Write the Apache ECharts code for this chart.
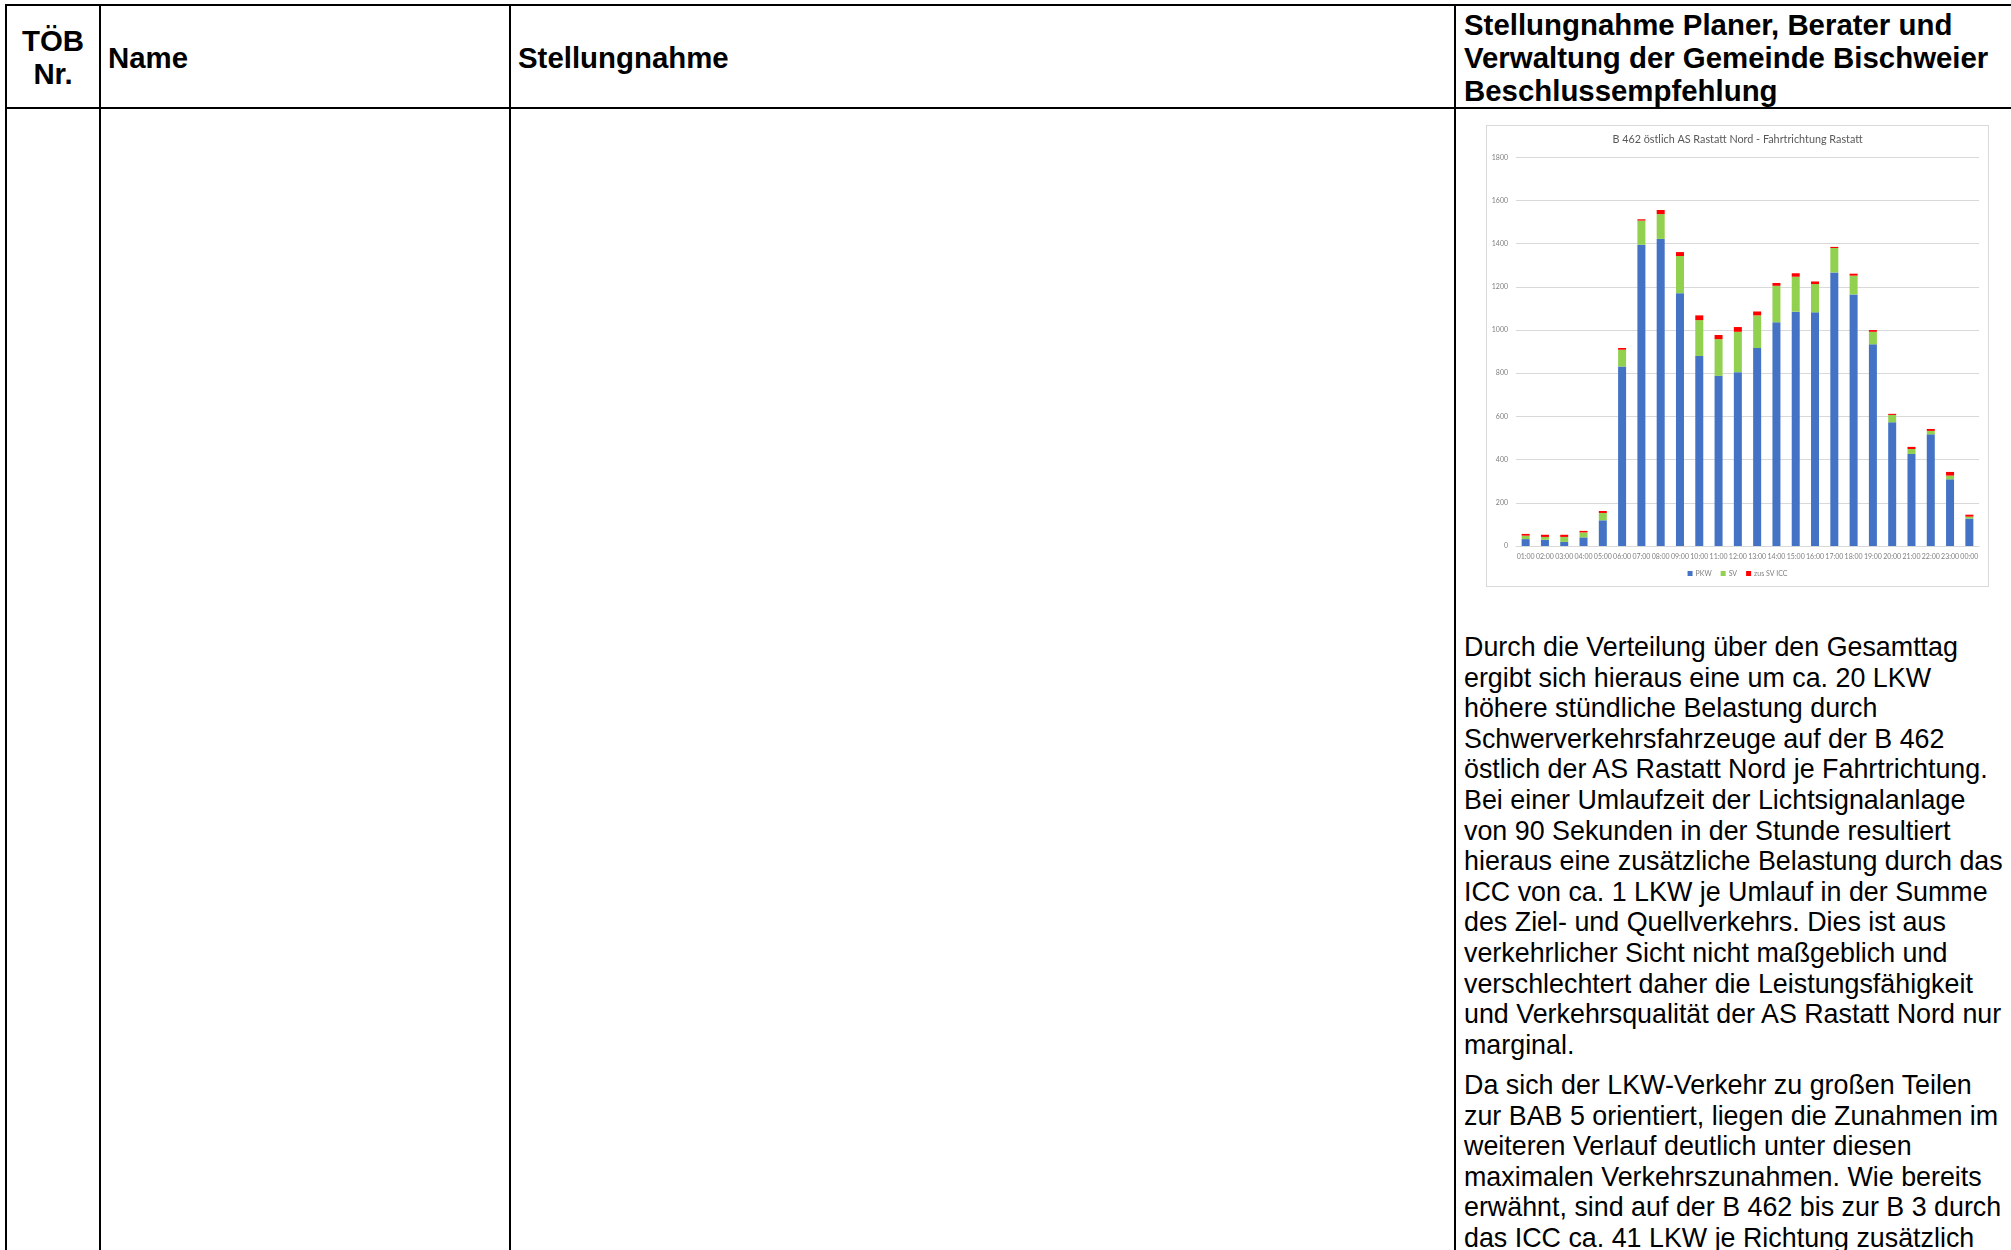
<!DOCTYPE html>
<html>
<head>
<meta charset="utf-8">
<script src="https://cdn.jsdelivr.net/npm/echarts@6/dist/echarts.min.js"></script>
<style>
  html, body { margin:0; padding:0; background:#fff; }
  body { width:2011px; height:1250px; overflow:hidden; position:relative; font-family:"Liberation Sans", Arial, sans-serif; color:#000; }
  .ln { position:absolute; background:#000; }
  .hd { position:absolute; font-weight:bold; font-size:29.4px; line-height:33.4px; white-space:nowrap; }
  .tx { position:absolute; left:1464px; font-size:26.85px; line-height:30.6px; white-space:nowrap; }
  #chartBorder { position:absolute; left:1486px; top:125px; width:503px; height:462px; box-sizing:border-box; border:1px solid #d9d9d9; pointer-events:none; }
  #chart { position:absolute; left:1486px; top:125px; width:503px; height:462px; }
</style>
</head>
<body>
<!-- table lines -->
<div class="ln" style="left:5px;top:4px;width:2006px;height:2px"></div>
<div class="ln" style="left:5px;top:107px;width:2006px;height:2px"></div>
<div class="ln" style="left:5px;top:4px;width:2px;height:1246px"></div>
<div class="ln" style="left:99px;top:4px;width:2px;height:1246px"></div>
<div class="ln" style="left:509px;top:4px;width:2px;height:1246px"></div>
<div class="ln" style="left:1454px;top:4px;width:2px;height:1246px"></div>

<!-- header -->
<div class="hd" style="left:7px;width:92px;top:24px;text-align:center">TÖB<br>Nr.</div>
<div class="hd" style="left:108px;top:41px">Name</div>
<div class="hd" style="left:518px;top:41px">Stellungnahme</div>
<div class="hd" style="left:1464px;top:7.5px">Stellungnahme Planer, Berater und<br>Verwaltung der Gemeinde Bischweier<br>Beschlussempfehlung</div>

<!-- chart -->
<div id="chart"></div>
<div id="chartBorder"></div>

<!-- body text -->
<div class="tx" style="top:632px">Durch die Verteilung über den Gesamttag<br>ergibt sich hieraus eine um ca. 20 LKW<br>höhere stündliche Belastung durch<br>Schwerverkehrsfahrzeuge auf der B 462<br>östlich der AS Rastatt Nord je Fahrtrichtung.<br>Bei einer Umlaufzeit der Lichtsignalanlage<br>von 90 Sekunden in der Stunde resultiert<br>hieraus eine zusätzliche Belastung durch das<br>ICC von ca. 1 LKW je Umlauf in der Summe<br>des Ziel- und Quellverkehrs. Dies ist aus<br>verkehrlicher Sicht nicht maßgeblich und<br>verschlechtert daher die Leistungsfähigkeit<br>und Verkehrsqualität der AS Rastatt Nord nur<br>marginal.</div>
<div class="tx" style="top:1070px">Da sich der LKW-Verkehr zu großen Teilen<br>zur BAB 5 orientiert, liegen die Zunahmen im<br>weiteren Verlauf deutlich unter diesen<br>maximalen Verkehrszunahmen. Wie bereits<br>erwähnt, sind auf der B 462 bis zur B 3 durch<br>das ICC ca. 41 LKW je Richtung zusätzlich</div>

<script>
const chartTitle = 'B 462 östlich AS Rastatt Nord - Fahrtrichtung Rastatt';
const hours = ['01:00','02:00','03:00','04:00','05:00','06:00','07:00','08:00','09:00','10:00','11:00','12:00',
               '13:00','14:00','15:00','16:00','17:00','18:00','19:00','20:00','21:00','22:00','23:00','00:00'];
const seriesNames = ['PKW', 'SV', 'zus SV ICC'];
const pkw = [32, 29, 19, 40, 119, 831, 1395, 1422, 1171, 880, 788, 805, 917, 1036, 1085, 1082, 1267, 1165, 934, 573, 426, 517, 309, 127];
const sv  = [16, 13, 23, 23, 34, 78, 112, 115, 172, 166, 170, 187, 151, 169, 162, 131, 113, 87, 58, 34, 23, 16, 17, 9];
const icc = [8, 10, 10, 7, 9, 8, 6, 19, 18, 22, 19, 22, 18, 13, 16, 12, 5, 9, 8, 5, 10, 9, 17, 9];
const yMin = 0, yMax = 1800, yStep = 200;

const colors = ['#4472C4', '#92D050', '#FF0000'];
const labelColor = '#7f7f7f';
const font = 'Lato, "Liberation Sans", sans-serif';

const chart = echarts.init(document.getElementById('chart'), null, { renderer: 'canvas' });
chart.setOption({
  animation: false,
  backgroundColor: '#fff',
  title: {
    text: chartTitle, left: 'center', top: 9, padding: 0,
    textStyle: { fontFamily: font, fontSize: 10.8, fontWeight: 'normal', color: '#595959' }
  },
  legend: {
    data: seriesNames, left: 'center', top: 445, padding: 0,
    itemWidth: 5, itemHeight: 5, itemGap: 9, icon: 'rect',
    textStyle: { fontFamily: font, fontSize: 7, color: labelColor, padding: [0, 0, 0, -2] }
  },
  grid: { left: 30, right: 10, top: 32.3, bottom: 41, containLabel: false },
  xAxis: {
    type: 'category', data: hours,
    axisLine: { show: true, lineStyle: { color: '#d9d9d9', width: 1 } },
    axisTick: { show: false },
    axisLabel: { interval: 0, hideOverlap: false, margin: 7.5, fontFamily: font, fontSize: 7, color: labelColor }
  },
  yAxis: {
    type: 'value', min: yMin, max: yMax, interval: yStep,
    axisLine: { show: false }, axisTick: { show: false },
    splitLine: { lineStyle: { color: '#d9d9d9', width: 1 } },
    axisLabel: { margin: 8, fontFamily: font, fontSize: 7, color: labelColor, formatter: v => String(v) }
  },
  series: [pkw, sv, icc].map((d, i) => ({
    name: seriesNames[i], type: 'bar', stack: 'total', data: d,
    barWidth: 8, itemStyle: { color: colors[i] }
  }))
});
</script>
</body>
</html>
